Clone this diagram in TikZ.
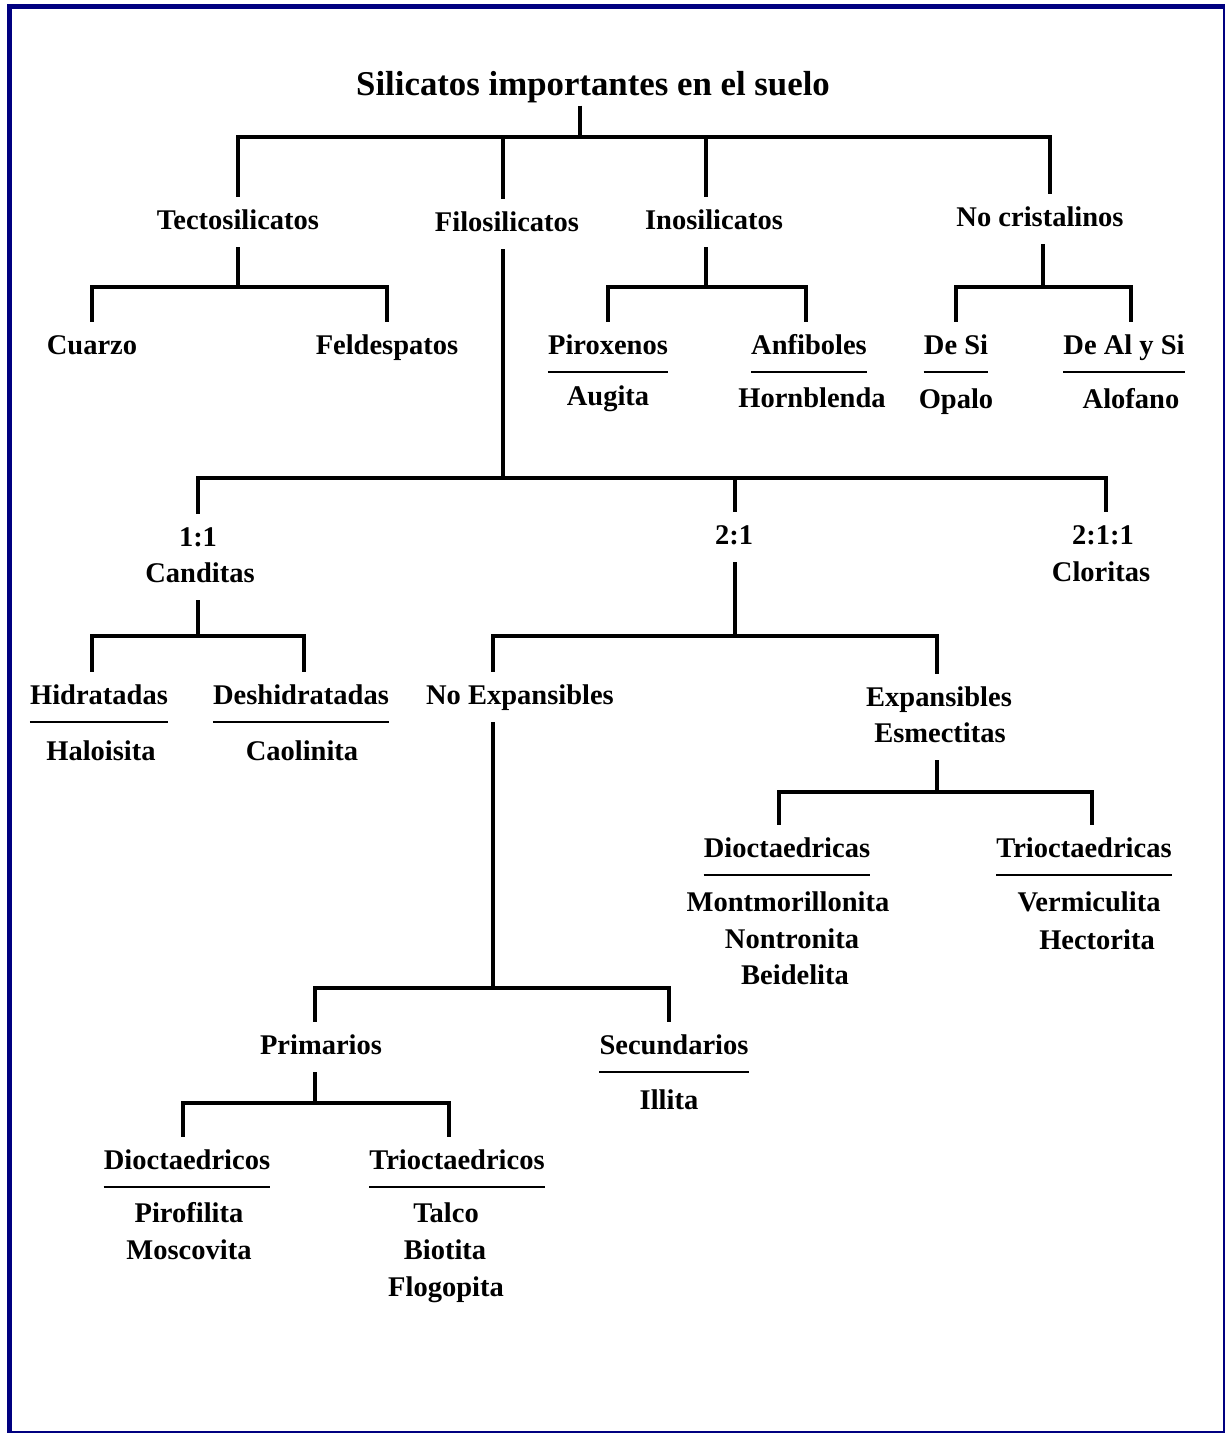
\documentclass[tikz,border=0pt]{standalone}
\usepackage{fontspec}
\setmainfont{Liberation Serif}
\definecolor{framenavy}{RGB}{0,0,128}
\newcommand{\lbfont}{\fontsize{28.5pt}{36pt}\selectfont\bfseries}
\newcommand{\ttlfont}{\fontsize{34.8pt}{40pt}\selectfont\bfseries}
\tikzset{
  lbl/.style={font=\lbfont, inner xsep=2pt, inner ysep=12pt, text height=20pt, text depth=6pt},
  hdr/.style={lbl, inner xsep=0pt},
  ttl/.style={font=\ttlfont, inner xsep=2pt, inner ysep=3pt, text height=24pt, text depth=7pt},
  tree/.style={line width=4.5pt, line join=miter},
  uline/.style={line width=2pt},
}
\begin{document}
\begin{tikzpicture}[x=1pt,y=-1pt]
\useasboundingbox (0,0) rectangle (1225,1433);
% frame
\fill[framenavy] (7,4) rectangle (12,1433);
\fill[framenavy] (7,4) rectangle (1225,9);
\fill[framenavy] (1222.5,4) rectangle (1224.5,1433);
\fill[framenavy] (7,1430.5) rectangle (1224.5,1432.5);

% nodes
\node[ttl] (title) at (593,87) {Silicatos importantes en el suelo};

\node[lbl] (tecto) at (238,222) {Tectosilicatos};
\node[lbl] (filo) at (507,224) {Filosilicatos};
\node[lbl] (inos) at (714,222) {Inosilicatos};
\node[lbl] (nocris) at (1040,219) {No cristalinos};

\node[lbl] (cuarzo) at (92,347) {Cuarzo};
\node[lbl] (feld) at (387,347) {Feldespatos};

\node[hdr] (pirox) at (608,347) {Piroxenos};
\node[lbl] (augita) at (608,398) {Augita};
\node[hdr] (anfib) at (809,347) {Anfiboles};
\node[lbl] (hornbl) at (812,400) {Hornblenda};

\node[hdr] (desi) at (956,347) {De Si};
\node[lbl] (opalo) at (956,401) {Opalo};
\node[hdr] (dealsi) at (1124,347) {De Al y Si};
\node[lbl] (alofano) at (1131,401) {Alofano};

\node[lbl] (n11) at (198,539) {1:1};
\node[lbl] (cand) at (200,575) {Canditas};
\node[lbl] (n21) at (734,537) {2:1};
\node[lbl] (n211) at (1103,537) {2:1:1};
\node[lbl] (clor) at (1101,574) {Cloritas};

\node[hdr] (hidr) at (99,697) {Hidratadas};
\node[lbl] (haloi) at (101,753) {Haloisita};
\node[hdr] (deshid) at (301,697) {Deshidratadas};
\node[lbl] (caoli) at (302,753) {Caolinita};

\node[lbl] (noexp) at (520,697) {No Expansibles};
\node[lbl] (exp) at (939,699) {Expansibles};
\node[lbl] (esm) at (940,735) {Esmectitas};

\node[hdr] (dioca) at (787,850) {Dioctaedricas};
\node[lbl] (montmo) at (788,904) {Montmorillonita};
\node[lbl] (nontro) at (792,941) {Nontronita};
\node[lbl] (beide) at (795,977) {Beidelita};
\node[hdr] (trioca) at (1084,850) {Trioctaedricas};
\node[lbl] (vermic) at (1089,904) {Vermiculita};
\node[lbl] (hector) at (1097,942) {Hectorita};

\node[lbl] (prim) at (321,1047) {Primarios};
\node[hdr] (secun) at (674,1047) {Secundarios};
\node[lbl] (illita) at (669,1102) {Illita};

\node[hdr] (dioc) at (187,1162) {Dioctaedricos};
\node[lbl] (pirof) at (189,1215) {Pirofilita};
\node[lbl] (mosco) at (189,1252) {Moscovita};
\node[hdr] (trioc) at (457,1162) {Trioctaedricos};
\node[lbl] (talco) at (446,1215) {Talco};
\node[lbl] (bioti) at (445,1252) {Biotita};
\node[lbl] (flogo) at (446,1289) {Flogopita};

% underlines
\foreach \h in {pirox,anfib,desi,dealsi,hidr,deshid,dioca,trioca,secun,dioc,trioc}
  \draw[uline] (\h.south west) -- (\h.south east);

% bar coordinates
\coordinate (b0) at (580,137);
\coordinate (b1) at (238,287);
\coordinate (b2) at (706,287);
\coordinate (b3) at (1043,287);
\coordinate (b4) at (503,478);
\coordinate (b5) at (198,636);
\coordinate (b6) at (735,636);
\coordinate (b7) at (493,988);
\coordinate (b8) at (315,1103);
\coordinate (b9) at (937,792);

% level 0
\draw[tree] (title.south -| b0) -- (b0);
\draw[tree] (b0) -| (tecto.north);
\draw[tree] (b0) -| ([xshift=-4]filo.north);
\draw[tree] (b0) -| ([xshift=-8]inos.north);
\draw[tree] (b0) -| ([xshift=10]nocris.north);

% tectosilicatos
\draw[tree] (tecto.south) -- (b1);
\draw[tree] (b1) -| (cuarzo.north);
\draw[tree] (b1) -| (feld.north);

% inosilicatos
\draw[tree] ([xshift=-8]inos.south) -- (b2);
\draw[tree] (b2) -| (pirox.north);
\draw[tree] (b2) -| ([xshift=-3]anfib.north);

% no cristalinos
\draw[tree] ([xshift=3]nocris.south) -- (b3);
\draw[tree] (b3) -| (desi.north);
\draw[tree] (b3) -| ([xshift=7]dealsi.north);

% filosilicatos
\draw[tree] ([xshift=-4]filo.south) -- (b4);
\draw[tree] (b4) -| (n11.north);
\draw[tree] (b4) -| ([xshift=1]n21.north);
\draw[tree] (b4) -| ([xshift=3]n211.north);

% 1:1
\draw[tree] ([xshift=-2]cand.south) -- (b5);
\draw[tree] (b5) -| ([xshift=-7]hidr.north);
\draw[tree] (b5) -| ([xshift=3]deshid.north);

% 2:1
\draw[tree] ([xshift=1]n21.south) -- (b6);
\draw[tree] (b6) -| ([xshift=-27]noexp.north);
\draw[tree] (b6) -| ([xshift=-2]exp.north);

% no expansibles
\draw[tree] ([xshift=-27]noexp.south) -- (b7);
\draw[tree] (b7) -| ([xshift=-6]prim.north);
\draw[tree] (b7) -| ([xshift=-5]secun.north);

% primarios
\draw[tree] ([xshift=-6]prim.south) -- (b8);
\draw[tree] (b8) -| ([xshift=-4]dioc.north);
\draw[tree] (b8) -| ([xshift=-8]trioc.north);

% expansibles
\draw[tree] ([xshift=-3]esm.south) -- (b9);
\draw[tree] (b9) -| ([xshift=-8]dioca.north);
\draw[tree] (b9) -| ([xshift=8]trioca.north);
\end{tikzpicture}
\end{document}
